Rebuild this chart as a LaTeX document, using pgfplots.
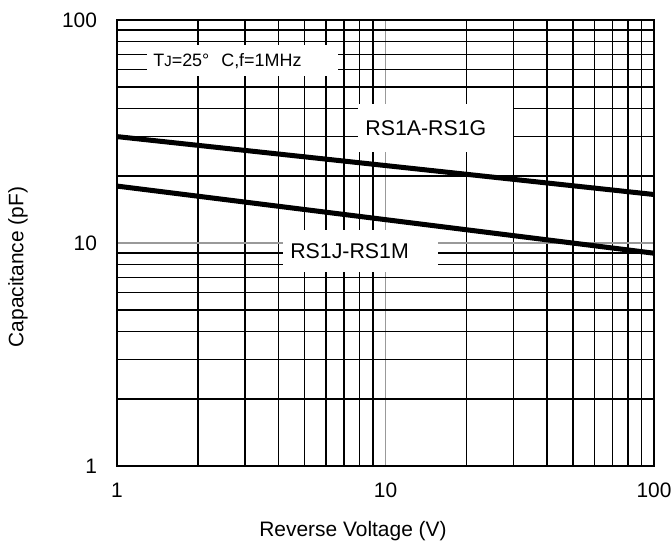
\documentclass[border=0pt]{standalone}
\usepackage{fontspec}
\setmainfont{Liberation Sans}
\usepackage{pgfplots}
\pgfplotsset{compat=1.18}

\begin{document}
\begin{tikzpicture}
\path[use as bounding box] (-58.5bp,-44bp) rectangle (277bp,233bp);
\begin{axis}[
    at={(0,0)}, anchor=south west,
    scale only axis,
    width=268.5bp, height=223bp,
    xmode=log, ymode=log,
    xmin=1, xmax=100, ymin=1, ymax=100,
    xtick={1,10,100}, xticklabels={1,10,100},
    ytick={1,10,100}, yticklabels={1,10,100},
    major tick length=0pt, minor tick length=0pt,
    grid=both,
    major grid style={draw=gray!80, line width=0.75bp},
    minor grid style={draw=black, line width=0.75bp},
    axis line style={line width=0.8bp},
    font=\fontsize{10.5}{12}\selectfont,
    /pgf/number format/assume math mode=true,
    xticklabel style={yshift=-5bp},
    yticklabel style={xshift=-6.5bp},
    xlabel={Reverse Voltage (V)},
    ylabel={Capacitance (pF)},
    xlabel style={at={(axis description cs:0.5,0)}, anchor=center, yshift=-32.5bp, xshift=-16.25bp},
    ylabel style={at={(axis description cs:0,0.5)}, anchor=center, yshift=49.5bp, xshift=-12bp},
]
\addplot[black, line width=2.5bp] coordinates {(1,30) (100,16.5)};
\addplot[black, line width=2.5bp] coordinates {(1,18) (100,9)};
\node[fill=white, anchor=north west, minimum width=95.5bp, minimum height=15.5bp,
      text width=89.5bp, inner xsep=3bp, inner ysep=0pt, align=left,
      font=\fontsize{9}{11}\selectfont]
      at (axis cs:1.293,77.2) {T{\fontsize{7.5}{9}\selectfont J}=25\textdegree\ \ C,f=1MHz};
\node[fill=white, anchor=north west, minimum width=77.5bp, minimum height=24bp,
      text width=70.5bp, inner xsep=3.5bp, inner ysep=0pt, align=left,
      font=\fontsize{10.7}{12}\selectfont]
      at (axis cs:7.90,42) {RS1A-RS1G};
\node[fill=white, anchor=north west, minimum width=77.5bp, minimum height=21bp,
      text width=70.5bp, inner xsep=3.5bp, inner ysep=0pt, align=left,
      font=\fontsize{10.7}{12}\selectfont]
      at (axis cs:4.15,11.44) {RS1J-RS1M};
\end{axis}
\end{tikzpicture}
\end{document}
